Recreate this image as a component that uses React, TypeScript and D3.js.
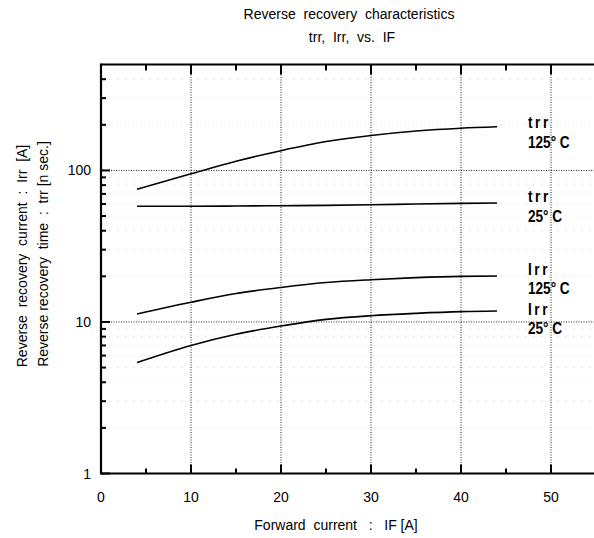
import React from "react";
import * as d3 from "d3";

const W = 594;
const H = 538;

const titleLines = ["Reverse  recovery  characteristics", "trr,  Irr,  vs.  IF"];
const xLabel = "Forward  current   :   IF [A]";
const yLabel1 = "Reverse  recovery  current  :  Irr  [A]";
const yLabel2 = "Reverse recovery  time  :  trr [n sec.]";

const xTicks = [0, 10, 20, 30, 40, 50];
const xMinorTicks = [5, 15, 25, 35, 45];
const yTicks = [1, 10, 100];
const yMinorTicks = [2, 3, 4, 5, 6, 7, 8, 9, 20, 30, 40, 50, 60, 70, 80, 90, 200, 300, 400];

const IF = [4, 10, 15, 20, 25, 30, 35, 40, 44];
const trr125 = [75, 95, 115, 135, 155, 170, 182, 190, 194];
const trr25 = [58, 58, 58.2, 58.5, 58.8, 59.3, 60, 60.6, 61];
const irr125 = [11.3, 13.5, 15.4, 16.9, 18.2, 19.0, 19.6, 20.0, 20.1];
const irr25 = [5.4, 7.0, 8.3, 9.4, 10.4, 11.0, 11.4, 11.7, 11.8];

const seriesList = [
  { name: "trr125", values: trr125, label: ["trr", "125° C"], labelY: [122, 142] },
  { name: "trr25", values: trr25, label: ["trr", "25° C"], labelY: [196, 216] },
  { name: "irr125", values: irr125, label: ["Irr", "125° C"], labelY: [269, 288] },
  { name: "irr25", values: irr25, label: ["Irr", "25° C"], labelY: [309, 328] },
];

export default function App() {
  const left = 101;
  const top = 64.5;
  const bottom = 473.5;
  const x = d3.scaleLinear().domain([0, 55]).range([left, 596]);
  const y = d3.scaleLog().domain([1, 500]).range([bottom, top]);
  const line = d3
    .line<[number, number]>()
    .x((d) => x(d[0]))
    .y((d) => y(d[1]))
    .curve(d3.curveMonotoneX);
  const font = "'Liberation Sans', Arial, sans-serif";

  return (
    <svg width={W} height={H} style={{ position: "absolute", left: 0, top: 0, background: "#fff" }}>
      <rect width={W} height={H} fill="#fff" />
      {/* minor faint grid */}
      {yMinorTicks.map((v) => (
        <line key={"gm" + v} x1={left} x2={W} y1={y(v)} y2={y(v)} stroke="#999" strokeWidth={0.8} strokeDasharray="1 7" opacity={0.55} />
      ))}
      {/* major grid */}
      {xTicks.slice(1).map((v) => (
        <line key={"gx" + v} x1={x(v)} x2={x(v)} y1={top} y2={bottom} stroke="#222" strokeWidth={1} strokeDasharray="1 1.5" />
      ))}
      {[10, 100].map((v) => (
        <line key={"gy" + v} x1={left} x2={W} y1={y(v)} y2={y(v)} stroke="#222" strokeWidth={1} strokeDasharray="1 1.5" />
      ))}
      {/* frame */}
      <line x1={left} x2={W} y1={top} y2={top} stroke="#000" strokeWidth={1.8} />
      <line x1={left} x2={W} y1={bottom} y2={bottom} stroke="#000" strokeWidth={1.8} />
      <line x1={left} x2={left} y1={top - 1} y2={bottom + 1} stroke="#000" strokeWidth={2.2} />
      {/* x ticks */}
      {xTicks.slice(1).map((v) => (
        <g key={"xt" + v}>
          <line x1={x(v)} x2={x(v)} y1={top} y2={top + 10} stroke="#000" strokeWidth={2} />
          <line x1={x(v)} x2={x(v)} y1={bottom} y2={bottom - 9} stroke="#000" strokeWidth={2} />
        </g>
      ))}
      {xMinorTicks.map((v) => (
        <g key={"xm" + v}>
          <line x1={x(v)} x2={x(v)} y1={top} y2={top + 6} stroke="#000" strokeWidth={2} />
          <line x1={x(v)} x2={x(v)} y1={bottom} y2={bottom - 5} stroke="#000" strokeWidth={2} />
        </g>
      ))}
      {xTicks.map((v) => (
        <text key={"xl" + v} x={x(v)} y={502} textAnchor="middle" fontFamily={font} fontSize={14} fill="#000">
          {v}
        </text>
      ))}
      {/* y ticks */}
      {yTicks.map((v) => (
        <line key={"yt" + v} x1={left} x2={left + 9} y1={y(v)} y2={y(v)} stroke="#000" strokeWidth={2} />
      ))}
      {yMinorTicks.map((v) => (
        <line key={"ym" + v} x1={left} x2={left + 5} y1={y(v)} y2={y(v)} stroke="#000" strokeWidth={2} />
      ))}
      {yTicks.map((v) => (
        <text key={"yl" + v} x={91} y={y(v) + 5} textAnchor="end" fontFamily={font} fontSize={14} fill="#000">
          {v}
        </text>
      ))}
      {/* curves */}
      {seriesList.map((s) => (
        <path
          key={s.name}
          d={line(IF.map((f, i) => [f, s.values[i]] as [number, number])) || ""}
          fill="none"
          stroke="#000"
          strokeWidth={1.6}
        />
      ))}
      {/* curve labels */}
      {seriesList.map((s) => (
        <g key={"lab" + s.name} fontFamily={font} fontWeight="bold" fontSize={16} fill="#000" style={{ whiteSpace: "pre" }}>
          <text x={0} y={0} transform={`translate(528,${s.labelY[0] + 6}) scale(0.85,1)`} letterSpacing={3}>
            {s.label[0]}
          </text>
          <text x={0} y={0} transform={`translate(528,${s.labelY[1] + 6}) scale(0.85,1)`}>
            {s.label[1]}
          </text>
        </g>
      ))}
      {/* titles */}
      <text x={349} y={19} textAnchor="middle" fontFamily={font} fontSize={14} fill="#000" style={{ whiteSpace: "pre" }}>
        {titleLines[0]}
      </text>
      <text x={352} y={42} textAnchor="middle" fontFamily={font} fontSize={14} fill="#000" style={{ whiteSpace: "pre" }}>
        {titleLines[1]}
      </text>
      <text x={336} y={530} textAnchor="middle" fontFamily={font} fontSize={14} fill="#000" style={{ whiteSpace: "pre" }}>
        {xLabel}
      </text>
      <text transform="translate(27,256) rotate(-90)" textAnchor="middle" fontFamily={font} fontSize={14} fill="#000" style={{ whiteSpace: "pre" }}>
        {yLabel1}
      </text>
      <text transform="translate(48,254) rotate(-90)" textAnchor="middle" fontFamily={font} fontSize={14} fill="#000" style={{ whiteSpace: "pre" }}>
        {yLabel2}
      </text>
    </svg>
  );
}
